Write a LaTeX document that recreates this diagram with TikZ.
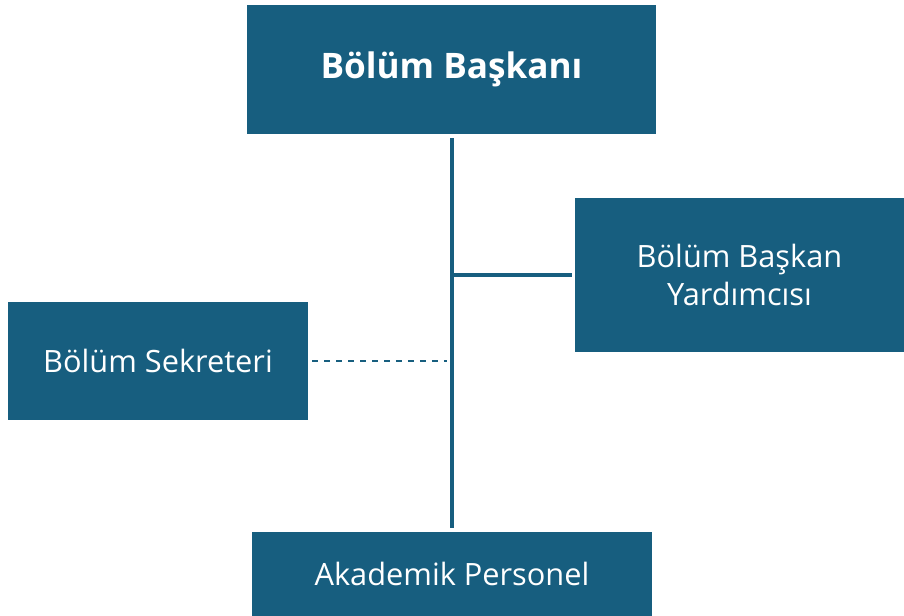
\documentclass[tikz,border=0pt]{standalone}
\usepackage{fontspec}
\setmainfont{Open Sans}
\usepackage{xcolor}
\usetikzlibrary{positioning,calc}
\definecolor{kutu}{RGB}{23,94,127}
\begin{document}
\begin{tikzpicture}[x=0.02cm,y=-0.02cm,line cap=butt,
  birim/.style={fill=kutu,draw=none,text=white,align=center,inner sep=0pt,font=\fontsize{17.5}{22}\selectfont},
  bag/.style={draw=kutu,line width=2pt},
  kesik/.style={draw=kutu,line width=1.2pt,dash pattern=on 3.4pt off 3.4pt}]
\useasboundingbox (0,0) rectangle (904,616);
% kutular
\node[birim,minimum width=409*0.02cm,minimum height=129*0.02cm,font=\bfseries\fontsize{20}{24}\selectfont] (baskan) at (451.5,69.5) {Bölüm Başkanı};
\node[birim,minimum width=329*0.02cm,minimum height=154*0.02cm] (yard) at (739.5,275) {Bölüm Başkan\\Yardımcısı};
\node[birim,minimum width=300*0.02cm,minimum height=118*0.02cm] (sekr) at (158,361) {Bölüm Sekreteri};
\node[birim,minimum width=400*0.02cm,minimum height=84*0.02cm] (akad) at (452,574) {Akademik Personel};
% baglantilar
\coordinate (ust) at (452,138);
\coordinate (alt) at (452,528);
\draw[bag] (ust) -- (alt);
\draw[bag] (ust |- yard.west) -- ($(yard.west)+(-3,0)$);
\draw[kesik] ($(sekr.east)+(4,0)$) -- ($(ust |- sekr.east)+(-5,0)$);
\end{tikzpicture}
\end{document}
